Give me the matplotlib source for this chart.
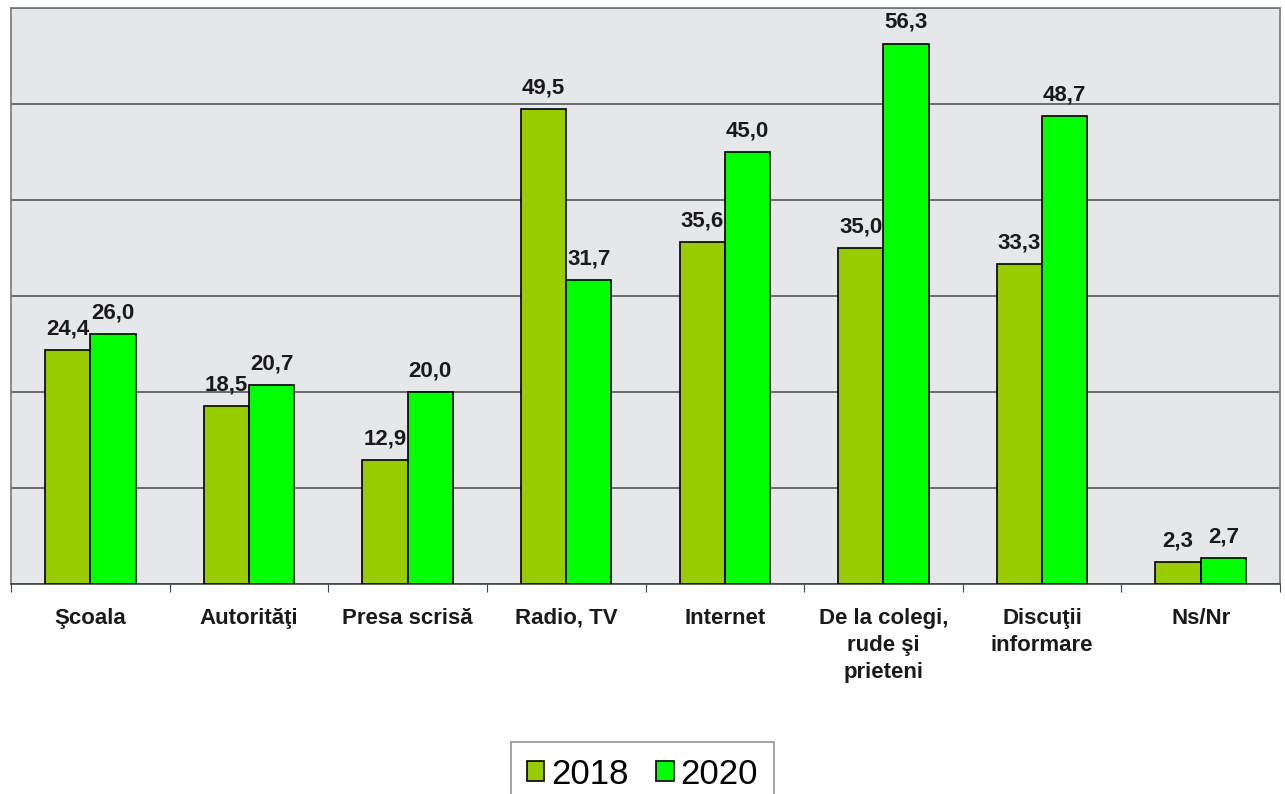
import matplotlib
matplotlib.use("Agg")
import matplotlib.pyplot as plt
import numpy as np

categories = ["Şcoala", "Autorităţi", "Presa scrisă", "Radio, TV", "Internet",
              "De la colegi,\nrude şi\nprieteni", "Discuţii\ninformare", "Ns/Nr"]
v2018 = [24.4, 18.5, 12.9, 49.5, 35.6, 35.0, 33.3, 2.3]
v2020 = [26.0, 20.7, 20.0, 31.7, 45.0, 56.3, 48.7, 2.7]
series_names = ["2018", "2020"]
colors = ["#99CC00", "#00FF00"]

plt.rcParams['font.family'] = ['Liberation Sans', 'DejaVu Sans']

fig = plt.figure(figsize=(12.85, 7.94), dpi=100)
ax = fig.add_axes([11/1285, 1 - 584/794, 1269/1285, 576/794])
ax.set_facecolor("#e6e7ea")

x = np.arange(len(categories))
w = 0.285
b1 = ax.bar(x - w/2, v2018, w, color=colors[0], edgecolor="black", linewidth=1.2,
            label=series_names[0], zorder=3)
b2 = ax.bar(x + w/2, v2020, w, color=colors[1], edgecolor="black", linewidth=1.2,
            label=series_names[1], zorder=3)

for bars, vals in ((b1, v2018), (b2, v2020)):
    for r, v in zip(bars, vals):
        ax.text(r.get_x() + r.get_width()/2, v + 1.1, f"{v:.1f}".replace(".", ","),
                ha="center", va="bottom", fontsize=16, fontweight="bold",
                color="#1a1a1a", zorder=4)

ax.set_xlim(-0.5, len(categories) - 0.5)
ax.set_ylim(0, 60)
ax.set_yticks(np.arange(0, 61, 10))
ax.yaxis.grid(True, color="#555555", linewidth=1.2, zorder=1)
ax.tick_params(axis="y", left=False, labelleft=False)

ax.set_xticks(np.arange(len(categories) + 1) - 0.5, minor=False)
ax.set_xticklabels([])
ax.tick_params(axis="x", which="major", direction="out", length=6, color="#444444")
ax.set_xticks(x, minor=True)
ax.set_xticklabels(categories, minor=True, fontsize=16, fontweight="bold",
                   color="#1a1a1a", linespacing=1.4, va="top")
ax.tick_params(axis="x", which="minor", length=0, pad=17)

for s in ax.spines.values():
    s.set_color("#777777")
    s.set_linewidth(1.2)
ax.spines["bottom"].set_color("#444444")

leg = fig.legend(handles=[b1, b2], labels=series_names, loc="upper center",
                 bbox_to_anchor=(642.5/1285, 1 - 742/794), ncol=2, fontsize=25,
                 frameon=True, fancybox=False, edgecolor="#777777",
                 handlelength=0.5, handleheight=0.5, handletextpad=0.2,
                 columnspacing=0.8, borderpad=0.45, borderaxespad=0)
leg.get_frame().set_linewidth(1.2)

fig.savefig("out.png", dpi=100, facecolor="white")
